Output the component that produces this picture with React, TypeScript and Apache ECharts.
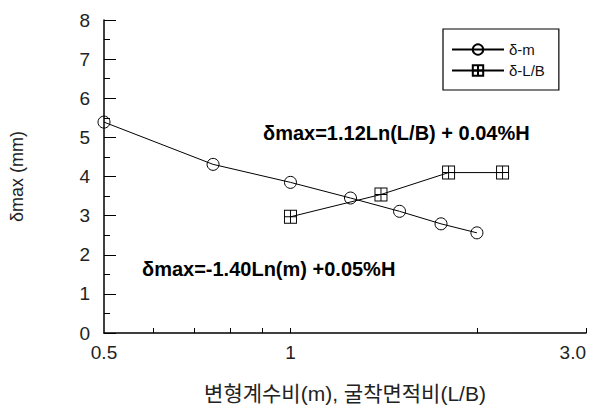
import React, { useEffect, useRef } from "react";
import * as echarts from "echarts";

// δ-m series (deformation modulus ratio m)
const mValues = [0.5, 0.75, 1.0, 1.25, 1.5, 1.75, 2.0];
const mDelta = [5.39, 4.31, 3.85, 3.45, 3.11, 2.79, 2.56];

// δ-L/B series (excavation area ratio L/B)
const lbValues = [1.0, 1.4, 1.8, 2.2];
const lbDelta = [2.97, 3.54, 4.1, 4.1];

const seriesNames = ["δ-m", "δ-L/B"];

// x axis (logarithmic)
const xMin = 0.5;
const xMax = 3.0;
const xTickValues = [0.6, 0.7, 0.8, 0.9, 1, 2, 3];
const xLabelValues = [0.5, 1, 3];
const xLabelTexts = ["0.5", "1", "3.0"];

// y axis
const yMin = 0;
const yMax = 8;
const yInterval = 1;

const eqLB = "δmax=1.12Ln(L/B) + 0.04%H";
const eqM = "δmax=-1.40Ln(m) +0.05%H";
const xTitle = "변형계수비(m), 굴착면적비(L/B)";
const yTitle = "δmax (mm)";

const squareSymbol = "path://M0 0H12V12H0Z M6 0V12 M0 6H12";

export default function App() {
  const ref = useRef<HTMLDivElement>(null);
  useEffect(() => {
    if (!ref.current) return;
    const chart = echarts.init(ref.current, undefined, { renderer: "svg" });
    const ln = Math.log;
    const font = "'Liberation Sans', Arial, sans-serif";
    chart.setOption({
      animation: false,
      backgroundColor: "#fff",
      grid: { left: 101, right: 4, top: 20, bottom: 81, containLabel: false },
      legend: {
        orient: "vertical",
        left: 443,
        top: 29,
        padding: [13, 14, 12, 8],
        itemGap: 6,
        itemWidth: 52,
        itemHeight: 13,
        borderColor: "#000",
        borderWidth: 1.2,
        textStyle: { fontFamily: font, fontSize: 15, color: "#111" },
        data: seriesNames,
      },
      xAxis: {
        type: "value",
        min: ln(xMin),
        max: ln(xMax),
        name: xTitle,
        nameLocation: "middle",
        nameGap: 50,
        nameTextStyle: {
          fontFamily: "'Liberation Sans', 'Noto Sans CJK KR', sans-serif",
          fontSize: 21,
          color: "#222",
        },
        axisLine: { show: true, onZero: false, lineStyle: { color: "#000", width: 1.5 } },
        axisTick: {
          show: true,
          inside: true,
          length: 5,
          customValues: xTickValues.map((v) => ln(v)),
          lineStyle: { color: "#000", width: 1 },
        },
        axisLabel: {
          customValues: xLabelValues.map((v) => ln(v)),
          formatter: (val: number) => {
            let best = 0;
            for (let i = 0; i < xLabelValues.length; i++) {
              if (Math.abs(ln(xLabelValues[i]) - val) < Math.abs(ln(xLabelValues[best]) - val)) best = i;
            }
            return xLabelTexts[best];
          },
          alignMaxLabel: "right",
          margin: 10,
          fontFamily: font,
          fontSize: 19,
          color: "#222",
        },
        splitLine: { show: false },
      },
      yAxis: {
        type: "value",
        min: yMin,
        max: yMax,
        interval: yInterval,
        name: yTitle,
        nameLocation: "middle",
        nameGap: 78,
        nameTextStyle: { fontFamily: font, fontSize: 18, color: "#222" },
        axisLine: { show: true, onZero: false, lineStyle: { color: "#000", width: 1.5 } },
        axisTick: { show: true, inside: true, length: 12, lineStyle: { color: "#000", width: 1 } },
        minorTick: { show: true, splitNumber: 2, length: 6, lineStyle: { color: "#000", width: 1 } },
        axisLabel: { margin: 14, fontFamily: font, fontSize: 19, color: "#222" },
        splitLine: { show: false },
      },
      graphic: [
        {
          type: "text",
          left: 263,
          top: 123,
          style: { text: eqLB, fontFamily: font, fontSize: 20, fontWeight: "bold", fill: "#000" },
        },
        {
          type: "text",
          left: 142,
          top: 259,
          style: { text: eqM, fontFamily: font, fontSize: 20, fontWeight: "bold", fill: "#000" },
        },
      ],
      series: [
        {
          name: seriesNames[0],
          type: "line",
          data: mValues.map((m, i) => [ln(m), mDelta[i]]),
          symbol: "circle",
          symbolSize: 12,
          showAllSymbol: true,
          lineStyle: { color: "#000", width: 1 },
          itemStyle: { color: "rgba(255,255,255,0)", borderColor: "#000", borderWidth: 1 },
          z: 3,
        },
        {
          name: seriesNames[1],
          type: "line",
          data: lbValues.map((v, i) => [ln(v), lbDelta[i]]),
          symbol: squareSymbol,
          symbolSize: [12, 13],
          showAllSymbol: true,
          lineStyle: { color: "#000", width: 1 },
          itemStyle: { color: "rgba(255,255,255,0)", borderColor: "#000", borderWidth: 1 },
          z: 3,
        },
      ],
    });
    return () => chart.dispose();
  }, []);
  return <div ref={ref} style={{ width: 590, height: 414, position: "absolute", left: 0, top: 0 }} />;
}
